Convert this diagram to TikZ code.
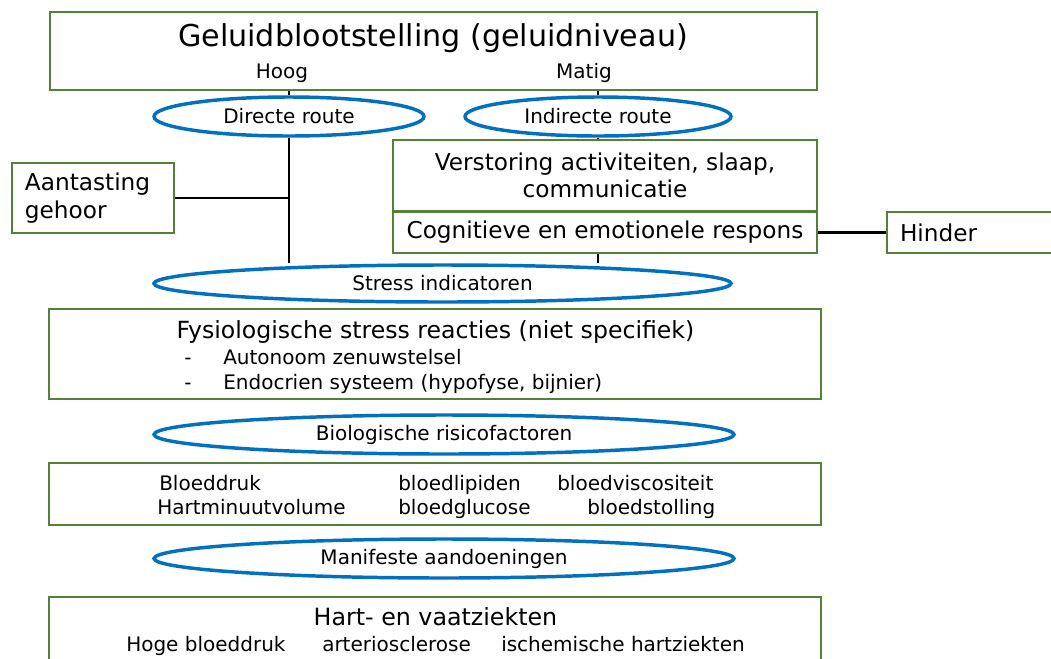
\documentclass[tikz,border=0pt]{standalone}
\usepackage{fontspec}
\setmainfont{DejaVu Sans}
\usetikzlibrary{shapes.geometric}
\definecolor{boxgreen}{HTML}{538135}
\definecolor{routeblue}{HTML}{0070C0}
\tikzset{box/.style={draw=boxgreen,line width=1.4pt,inner sep=0pt},route/.style={ellipse,draw=routeblue,line width=2.6pt,inner sep=0pt,minimum height=29.25pt,font=\fontsize{15}{18}\selectfont},link/.style={line width=1.8pt},lbl/.style={inner sep=0pt,text height=.9em,text depth=.07em},big/.style={font=\fontsize{22.6}{27}\selectfont},mid/.style={font=\fontsize{17.4}{20.5}\selectfont},small/.style={font=\fontsize{15}{18}\selectfont}}

\begin{document}
\begin{tikzpicture}[x=0.75pt,y=-0.75pt]
\useasboundingbox (0,0) rectangle (1051,658);
\clip (0,0) rectangle (1051,658);
% blootstelling
\node[box,minimum width=575.25pt,minimum height=58.5pt] (expo) at (433.5,51) {};
\node[lbl,big] (title) at (433,41) {Geluidblootstelling (geluidniveau)};
\node[lbl,small] (hoog) at (282,73) {Hoog};
\node[lbl,small] (matig) at (584,73) {Matig};
% routes
\node[route,minimum width=202.5pt] (direct) at (289,116.5) {Directe route};
\node[route,minimum width=199.5pt] (indirect) at (598,116.5) {Indirecte route};
\node[box,mid,minimum width=121.5pt,minimum height=52.5pt,text width=102pt,inner xsep=9.75pt,align=left] (gehoor) at (93,198) {Aantasting\\gehoor};
\node[box,mid,minimum width=318pt,minimum height=53.25pt,align=center] (verstoring) at (605,175.5) {Verstoring activiteiten, slaap,\\communicatie};
\node[box,mid,minimum width=318pt,minimum height=30.75pt] (respons) at (605,232.5) {Cognitieve en emotionele respons};
\node[box,mid,minimum width=133.5pt,minimum height=30.75pt,text width=114pt,inner xsep=9.75pt,align=left] (hinder) at (976,232.5) {Hinder};
\node[route,minimum width=432.75pt,minimum height=27.75pt] (stress) at (442.5,283.5) {Stress indicatoren};
% verbindingen
\draw[link] (direct.north |- expo.south) -- (direct.north);
\draw[link] (indirect.north |- expo.south) -- (indirect.north);
\draw[link] (indirect.south) -- (indirect.south |- verstoring.north);
\draw[link] (direct.south) -- (direct.south |- stress.north);
\draw[link] (gehoor.east) -- (gehoor.east -| direct.south);
\draw[link] (respons.east) -- (hinder.west);
\draw[link] (respons.south -| indirect.south) -- (indirect.south |- stress.north);
% stress reacties
\node[box,minimum width=579pt,minimum height=67.5pt] (fysio) at (435,354) {};
\node[lbl,font=\fontsize{17.7}{21}\selectfont] (fysiotitle) at (435.5,333) {Fysiologische stress reacties (niet specifiek)};
\foreach \y/\txt [count=\i] in {359/Autonoom zenuwstelsel,384/{Endocrien systeem (hypofyse, bijnier)}}{
  \node[lbl,small] (dash\i) at (188,\y) {-};
  \node[lbl,small,anchor=west] (item\i) at (223,\y) {\txt};
}
\node[route,minimum width=435pt] (bio) at (444,434.5) {Biologische risicofactoren};
% risicofactoren
\node[box,minimum width=579pt,minimum height=46.5pt] (risico) at (435,494) {};
\node[lbl,small,anchor=west] (druk) at (159,485) {Bloeddruk};
\node[lbl,small,anchor=west] (lipiden) at (398,485) {bloedlipiden};
\node[lbl,small,anchor=west] (viscositeit) at (557,485) {bloedviscositeit};
\node[lbl,small,anchor=west] (volume) at (157,509) {Hartminuutvolume};
\node[lbl,small,anchor=west] (glucose) at (398,509) {bloedglucose};
\node[lbl,small,anchor=west] (stolling) at (587,509) {bloedstolling};
\node[route,minimum width=435pt] (manifest) at (444,558.5) {Manifeste aandoeningen};
% aandoeningen
\node[box,minimum width=579pt,minimum height=64.5pt] (hart) at (435,640) {};
\node[lbl,font=\fontsize{17.8}{21}\selectfont] (harttitle) at (435.5,620) {Hart- en vaatziekten};
\node[lbl,small,anchor=west] (hoge) at (126,646) {Hoge bloeddruk};
\node[lbl,small,anchor=west] (sclerose) at (322,646) {arteriosclerose};
\node[lbl,small,anchor=west] (ischemie) at (501,646) {ischemische hartziekten};
\end{tikzpicture}
\end{document}
